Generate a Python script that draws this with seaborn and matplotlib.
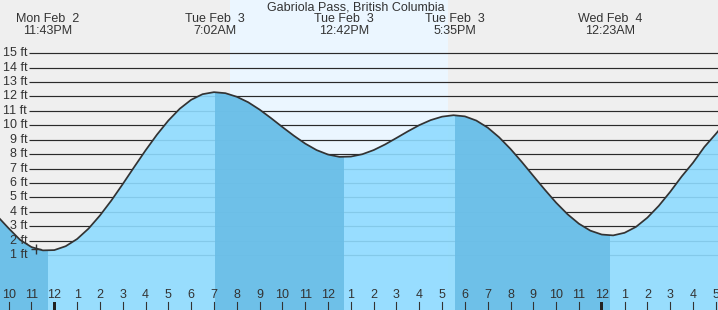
import numpy as np
import pandas as pd
import matplotlib
matplotlib.use("Agg")
import matplotlib.pyplot as plt
from matplotlib.patches import Rectangle
from matplotlib.transforms import blended_transform_factory
import seaborn as sns

# ---- data (hours relative to midnight, Tue Feb 3) ----
hours = list(np.arange(-3.0, 30.01, 0.5))
height_ft = [4.6, 3.7, 2.85, 2.05, 1.55, 1.32, 1.34, 1.61, 2.11, 2.83, 3.74, 4.78,
             5.92, 7.1, 8.26, 9.35, 10.33, 11.15, 11.77, 12.16, 12.3, 12.23, 11.98,
             11.6, 11.09, 10.5, 9.88, 9.28, 8.73, 8.28, 7.97, 7.81, 7.83, 7.99, 8.28,
             8.67, 9.12, 9.58, 10.01, 10.36, 10.6, 10.7, 10.62, 10.33, 9.84, 9.17,
             8.36, 7.45, 6.49, 5.54, 4.63, 3.83, 3.17, 2.69, 2.42, 2.36, 2.54, 2.95,
             3.59, 4.41, 5.38, 6.44, 7.4, 8.5, 9.4, 10.35, 11.15]

event_hours = [-0.283, 7.033, 12.7, 17.583, 24.383]
event_day = ["Mon Feb  2", "Tue Feb  3", "Tue Feb  3", "Tue Feb  3", "Wed Feb  4"]
event_time = ["11:43PM", "7:02AM", "12:42PM", "5:35PM", "12:23AM"]
falling_spans = [(-3.0, -0.283), (7.033, 12.7), (17.583, 24.383)]

sunrise, sunset = 7.70, 17.26
ft_levels = list(range(1, 16))
ft_labels = [f"{v} ft" for v in ft_levels]
tick_hours = list(range(-2, 30))
tick_labels = [str((h % 12) or 12) for h in tick_hours]
now_hour, now_ft = -0.80, 1.42
title = "Gabriola Pass, British Columbia"

df = pd.DataFrame({"hour": hours, "height": height_ft})

# ---- figure ----
W, H = 718, 310
fig = plt.figure(figsize=(W / 100, H / 100), dpi=100)
ax = fig.add_axes([0, 0, 1, 1])
px_per_hr = 22.81
x0 = -54.3 / px_per_hr
x1 = (W - 54.3) / px_per_hr
px_per_ft = 14.41
zero_y = 269.4
y0 = -(H - zero_y) / px_per_ft
y1 = zero_y / px_per_ft
ax.set_xlim(x0, x1)
ax.set_ylim(y0, y1)
ax.axis("off")

FONT = "Liberation Sans"
TXT = "#333333"
ax.add_patch(Rectangle((0, 0), 1, 1, transform=ax.transAxes, color="#efefef", zorder=0))
ax.axvspan(sunrise, sunset, color="#ebf6ff", zorder=0.5, lw=0)

# gridlines and y labels
gx0 = (29 - 54.3) / px_per_hr
for v, lab in zip(ft_levels, ft_labels):
    ax.plot([gx0, x1], [v, v], color="#2a2a2a", lw=0.85, zorder=1, solid_capstyle="butt")
    ax.text(gx0 - 0.08, v, lab, ha="right", va="center", fontsize=9, family=FONT, color=TXT, zorder=4)

# water fill
light = "#8fdbff"
dark = "#6abde6"
ax.fill_between(df["hour"], df["height"], y0 - 1, color=light, alpha=0.9, lw=0, zorder=2)
for a, b in falling_spans:
    poly = ax.fill_between(df["hour"], df["height"], y0 - 1, color=dark, alpha=0.9, lw=0, zorder=2.1)
    clip = Rectangle((a, y0 - 2), b - a, 40, transform=ax.transData)
    poly.set_clip_path(clip)

sns.lineplot(data=df, x="hour", y="height", ax=ax, color="#333333", lw=1.25, zorder=3)
ax.plot([now_hour], [now_ft], marker="+", ms=7, mew=1.0, color="#333333", zorder=4)

# x ticks
tr = blended_transform_factory(ax.transData, ax.transAxes)
for h, lab in zip(tick_hours, tick_labels):
    if h % 24 == 0:
        ax.add_patch(Rectangle((h - 1.5 / px_per_hr, 0), 3 / px_per_hr, 8 / H, transform=tr,
                               color="#222222", zorder=5, lw=0))
    else:
        ax.plot([h, h], [0, 8 / H], transform=tr, color="#333333", lw=0.8, zorder=5)
    ax.text(h, 1 - 295.5 / H, lab, transform=tr, ha="center", va="center", fontsize=9,
            family=FONT, color=TXT, zorder=5)

# header texts
ax.text(355.7 / W, 1 - 7.5 / H, title, transform=ax.transAxes, ha="center", va="center",
        fontsize=9, family=FONT, color=TXT, zorder=6)
for eh, d, t in zip(event_hours, event_day, event_time):
    ax.text(eh, 1 - 19.5 / H, d, transform=tr, ha="center", va="center", fontsize=9,
            family=FONT, color=TXT, zorder=6)
    ax.text(eh, 1 - 31.5 / H, t, transform=tr, ha="center", va="center", fontsize=9,
            family=FONT, color=TXT, zorder=6)

fig.savefig("out.png", dpi=100)
